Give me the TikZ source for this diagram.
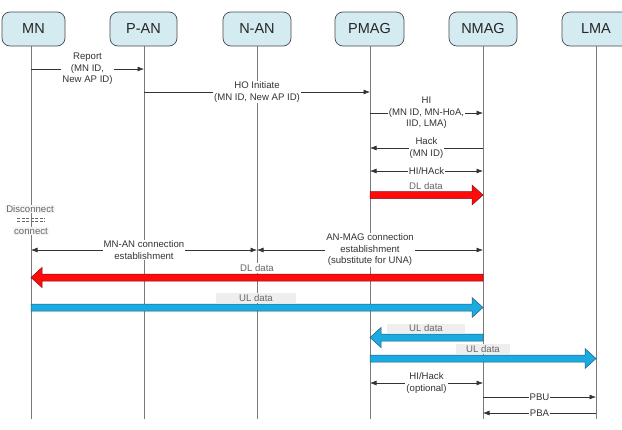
\documentclass[tikz,border=0pt]{standalone}
\usepackage{fontspec}
\setmainfont{Liberation Sans}
\usetikzlibrary{arrows.meta,calc}
\definecolor{hdrfill}{HTML}{D4EBF1}
\definecolor{hdrline}{HTML}{4A4A4A}
\definecolor{lifecol}{HTML}{7A7A7A}
\definecolor{msgcol}{HTML}{333333}
\definecolor{datacol}{HTML}{666666}
\definecolor{ulblue}{HTML}{1BAAE2}
\definecolor{ulborder}{HTML}{1D5E7A}
\definecolor{dlred}{HTML}{FF0B0B}
\definecolor{dlborder}{HTML}{8A1010}
\definecolor{tagbg}{HTML}{EEEEEE}
% #1 from, #2 to, #3 style, #4 head offset (negative for rightward arrow)
\newcommand\fatarrow[4]{%
  \filldraw[#3] ($(#1)+(0,-3.5)$) -- ($(#2)+(#4,-3.5)$) -- ($(#2)+(#4,-10)$)
    -- (#2) -- ($(#2)+(#4,10)$) -- ($(#2)+(#4,3.5)$) -- ($(#1)+(0,3.5)$) -- cycle;}
\begin{document}
\begin{tikzpicture}[x=1pt,y=-1pt,
  hdr/.style={draw=hdrline, fill=hdrfill, rounded corners=8pt, minimum height=34pt,
    inner sep=0pt, font=\fontsize{14.5}{16}\selectfont, text=black!85, line width=0.7pt},
  life/.style={draw=lifecol, line width=0.8pt},
  msg/.style={draw=msgcol, line width=0.6pt, -{Latex[length=6.5pt,width=5pt]}},
  bimsg/.style={draw=msgcol, line width=0.6pt,
    {Latex[length=6.5pt,width=5pt]}-{Latex[length=6.5pt,width=5pt]}},
  lbl/.style={fill=white, inner sep=1pt, align=center, text=msgcol,
    font=\fontsize{9.6}{11.5}\selectfont},
  dlbl/.style={fill=white, inner sep=1pt, text=datacol, font=\fontsize{9.6}{11}\selectfont},
  tagbox/.style={dlbl, fill=tagbg, minimum height=9.5pt, inner ysep=0pt},
  notebox/.style={dlbl, fill=tagbg!55, inner ysep=0.5pt},
  dlarrow/.style={fill=dlred, draw=dlborder, line width=0.5pt},
  ularrow/.style={fill=ulblue, draw=ulborder, line width=0.5pt},
]
\useasboundingbox (0,0) rectangle (622,429);
\fill[white] (0,0) rectangle (622,429);

% headers
\node[hdr, minimum width=63pt] (MN)   at (33.5,29) {MN};
\node[hdr, minimum width=67pt] (PAN)  at (143.5,29) {P-AN};
\node[hdr, minimum width=68pt] (NAN)  at (257,29) {N-AN};
\node[hdr, minimum width=69pt] (PMAG) at (369.5,29) {PMAG};
\node[hdr, minimum width=68pt] (NMAG) at (483,29) {NMAG};
\node[hdr, minimum width=68pt] (LMA)  at (596,29) {LMA};

% lifeline x positions
\coordinate (xMN)   at (31,0);
\coordinate (xPAN)  at (144,0);
\coordinate (xNAN)  at (257,0);
\coordinate (xPMAG) at (370,0);
\coordinate (xNMAG) at (483,0);
\coordinate (xLMA)  at (596,0);

\draw[life] (xMN |- MN.south) -- (xMN |- 0,419);
\draw[life] (xPAN |- PAN.south) -- (xPAN |- 0,419);
\draw[life] (xNAN |- NAN.south) -- (xNAN |- 0,419);
\draw[life] (xPMAG |- PMAG.south) -- (xPMAG |- 0,419);
\draw[life] (xNMAG |- NMAG.south) -- (xNMAG |- 0,419);
\draw[life] (xLMA |- LMA.south) -- (xLMA |- 0,419);

% signalling messages
\draw[msg] (xMN |- 0,69) -- node[lbl] (m1) {Report\\(MN ID,\\New AP ID)} (xPAN |- 0,69);
\draw[msg] (xPAN |- 0,92) -- node[lbl] (m2) {HO Initiate\\(MN ID, New AP ID)} (xPMAG |- 0,92);
\draw[msg] (xPMAG |- 0,113) -- node[lbl, inner xsep=0.5pt] (m3) {HI\\(MN ID, MN-HoA,\\IID, LMA)} (xNMAG |- 0,113);
\draw[msg] (xNMAG |- 0,148) -- node[lbl] (m4) {Hack\\(MN ID)} (xPMAG |- 0,148);
\draw[bimsg] (xPMAG |- 0,171) -- node[lbl] (m5) {HI/HAck} (xNMAG |- 0,171);

% DL data PMAG -> NMAG
\coordinate (d1a) at (xPMAG |- 0,195);
\coordinate (d1b) at (xNMAG |- 0,195);
\fatarrow{d1a}{d1b}{dlarrow}{-11}
\node[dlbl, fill=none] (t1) at (426,186) {DL data};

% disconnect / connect note
\node[notebox] (disc) at (30,209) {Disconnect};
\draw[datacol, line width=0.4pt, dash pattern=on 3pt off 1.5pt]
  (17,218) -- (45,218) (17,221) -- (45,221);
\node[notebox] (conn) at (31,231) {connect};

% connection establishment
\draw[bimsg] (xMN |- 0,250) -- node[lbl] (m6) {MN-AN connection\\establishment} (xNAN |- 0,250);
\draw[bimsg] (xNAN |- 0,250) -- node[lbl] (m7) {AN-MAG connection\\establishment\\(substitute for UNA)} (xNMAG |- 0,250);

% DL data NMAG -> MN
\coordinate (d2a) at (xNMAG |- 0,277.5);
\coordinate (d2b) at (xMN |- 0,277.5);
\fatarrow{d2a}{d2b}{dlarrow}{11}
\node[dlbl] (t2) at (257,268) {DL data};

% UL data MN -> NMAG
\coordinate (u1a) at (xMN |- 0,307.5);
\coordinate (u1b) at (xNMAG |- 0,307.5);
\fatarrow{u1a}{u1b}{ularrow}{-11}
\node[tagbox, minimum width=80pt] (t3) at (256,298) {UL data};

% UL data NMAG -> PMAG
\coordinate (u2a) at (xNMAG |- 0,337.5);
\coordinate (u2b) at (xPMAG |- 0,337.5);
\fatarrow{u2a}{u2b}{ularrow}{11}
\node[tagbox, minimum width=78pt] (t4) at (426,328.5) {UL data};

% UL data PMAG -> LMA
\coordinate (u3a) at (xPMAG |- 0,358.5);
\coordinate (u3b) at (xLMA |- 0,358.5);
\fatarrow{u3a}{u3b}{ularrow}{-11}
\node[tagbox, minimum width=54pt] (t5) at (483,349) {UL data};

% optional HI/Hack and PBU/PBA
\draw[bimsg] (xPMAG |- 0,383) -- node[lbl] (m8) {HI/Hack\\(optional)} (xNMAG |- 0,383);
\draw[msg] (xNMAG |- 0,397) -- node[lbl] (m9) {PBU} (xLMA |- 0,397);
\draw[msg] (xLMA |- 0,413) -- node[lbl] (m10) {PBA} (xNMAG |- 0,413);
\end{tikzpicture}
\end{document}
